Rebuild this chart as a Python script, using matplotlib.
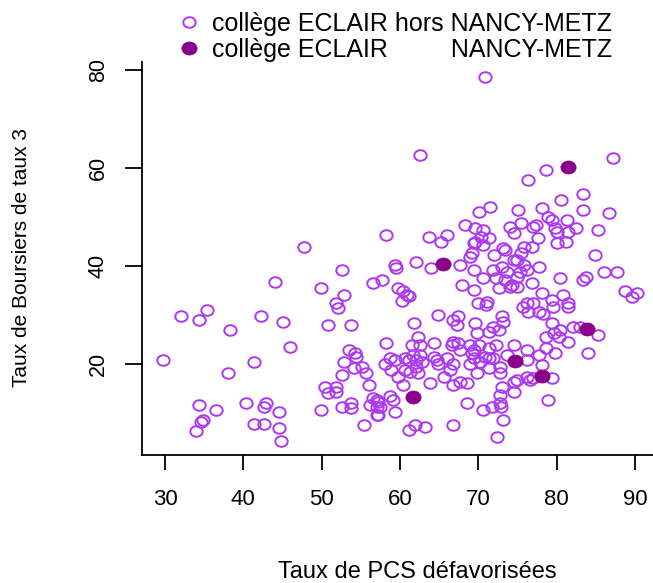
import matplotlib
matplotlib.use("Agg")
import matplotlib.pyplot as plt
from matplotlib.path import Path
from matplotlib.transforms import Affine2D

# ---- data ----
pcs_hors = [70.8, 62.6, 87.2, 78.7, 76.4, 83.4, 80.5, 83.4, 86.7, 75.1, 78.1, 71.5, 70.1, 68.3, 69.6, 70.6,
            70.4, 71.3, 69.6, 74.0, 75.4, 74.6, 77.0, 77.3, 78.9, 79.4, 81.3, 79.8, 80.0, 81.5, 82.5, 85.3,
            77.6, 81.2, 80.0, 69.4, 70.6, 76.9, 75.8, 73.2, 73.4, 69.2, 68.9, 72.0, 75.5, 84.9, 58.2, 63.7,
            66.0, 65.2, 62.0, 59.4, 59.5, 64.0, 67.6, 74.5, 74.9, 75.8, 77.8, 69.4, 71.9, 73.0, 73.6, 75.3,
            76.2, 74.9, 72.3, 70.6, 73.4, 76.8, 74.0, 74.9, 67.9, 69.4, 72.6, 80.4, 83.4, 83.8, 86.0, 87.7,
            88.7, 90.2, 89.6, 57.7, 56.5, 59.8, 60.4, 60.9, 78.1, 80.8, 61.2, 60.2, 70.0, 71.1, 71.0, 74.3,
            76.2, 77.0, 75.7, 76.3, 78.3, 77.7, 79.4, 79.5, 81.5, 81.5, 47.7, 52.6, 44.0, 49.9, 52.9, 51.8,
            52.1, 32.1, 34.4, 35.3, 38.3, 42.3, 45.0, 50.8, 53.8, 29.8, 41.4, 46.0, 38.0, 53.5, 54.3, 54.4,
            52.8, 54.1, 55.1, 55.7, 52.6, 56.0, 50.4, 50.8, 51.8, 51.8, 34.4, 36.5, 40.4, 42.6, 42.9, 44.6,
            34.8, 34.6, 33.9, 41.4, 42.6, 44.6, 44.8, 49.9, 52.6, 53.8, 53.8, 56.2, 57.0, 57.0, 57.0, 55.4,
            64.9, 66.8, 67.4, 67.3, 69.6, 73.0, 73.1, 71.9, 72.6, 71.3, 69.8, 61.8, 62.3, 58.2, 61.5, 62.6,
            64.3, 66.8, 67.4, 66.6, 67.7, 68.9, 69.4, 70.1, 71.3, 72.3, 74.5, 76.2, 77.7, 78.7, 79.8, 78.6,
            79.6, 80.4, 81.5, 79.4, 80.3, 82.1, 83.0, 85.3, 84.0, 69.4, 69.2, 71.3, 71.9, 66.0, 66.8, 66.4,
            64.7, 64.3, 61.7, 60.6, 61.1, 58.7, 58.1, 59.4, 62.1, 58.9, 59.8, 62.1, 62.3, 60.6, 60.4, 63.8,
            65.6, 66.8, 67.7, 68.5, 69.8, 71.3, 72.8, 72.8, 73.6, 76.2, 78.1, 76.2, 77.0, 76.6, 79.4, 78.9,
            74.9, 74.5, 73.0, 74.5, 72.8, 72.8, 72.9, 73.2, 71.7, 70.6, 72.4, 68.5, 66.8, 58.7, 59.1, 56.6,
            57.2, 57.4, 59.4, 57.2, 61.1, 61.9, 63.2, 62.6, 62.8, 61.3, 64.9, 68.9, 70.2, 70.9]
bours_hors = [78.6, 62.7, 62.0, 59.6, 57.6, 54.8, 53.5, 51.4, 50.8, 51.4, 51.8, 52.1, 51.1, 48.4, 47.7, 47.3,
              46.0, 45.7, 45.0, 48.0, 48.7, 46.7, 48.0, 48.4, 50.1, 49.4, 49.4, 47.7, 47.0, 47.0, 47.7, 47.3,
              45.7, 45.0, 44.6, 44.6, 44.3, 43.9, 43.9, 43.6, 43.3, 42.6, 41.9, 42.2, 42.6, 42.2, 46.3, 46.0,
              46.3, 45.0, 40.9, 40.2, 39.6, 39.5, 40.2, 41.2, 41.2, 40.2, 39.9, 39.2, 39.2, 39.9, 38.8, 38.8,
              39.2, 37.8, 37.5, 37.5, 37.1, 36.5, 35.8, 35.8, 36.1, 35.1, 35.5, 37.5, 37.1, 37.8, 38.8, 38.8,
              34.8, 34.4, 33.7, 37.1, 36.5, 35.5, 34.8, 34.1, 34.4, 34.1, 33.8, 32.8, 32.4, 32.7, 32.0, 36.1,
              32.4, 32.4, 31.7, 30.7, 30.3, 30.7, 33.1, 31.7, 32.5, 31.7, 43.9, 39.2, 36.8, 35.5, 34.1, 32.5,
              31.4, 29.7, 29.0, 31.0, 26.9, 29.7, 28.6, 28.0, 28.0, 20.8, 20.5, 23.5, 18.1, 22.9, 22.2, 21.4,
              20.5, 19.1, 19.4, 18.1, 17.8, 15.7, 15.4, 14.0, 15.4, 14.3, 11.6, 10.6, 12.0, 11.3, 12.0, 10.3,
              8.6, 8.2, 6.4, 7.8, 7.8, 6.9, 4.3, 10.6, 11.3, 12.1, 11.0, 11.6, 12.7, 11.3, 9.6, 7.6,
              30.0, 29.0, 29.7, 28.0, 28.3, 29.7, 28.6, 27.6, 26.9, 26.6, 26.3, 28.3, 25.6, 24.2, 23.9, 23.9,
              24.2, 24.5, 24.3, 23.9, 22.9, 23.9, 22.9, 23.9, 23.2, 23.9, 23.9, 22.9, 21.8, 23.2, 22.2, 25.6,
              26.3, 26.9, 24.5, 28.3, 25.6, 27.6, 27.6, 25.9, 22.2, 21.2, 22.2, 21.2, 21.2, 21.2, 20.1, 18.8,
              20.8, 21.5, 21.8, 21.2, 20.8, 21.2, 20.1, 20.8, 20.8, 18.8, 17.4, 19.4, 18.1, 18.8, 15.7, 16.1,
              17.4, 15.7, 16.4, 16.1, 18.1, 19.1, 18.1, 19.4, 21.8, 20.8, 19.8, 17.4, 17.1, 16.7, 17.1, 12.7,
              16.7, 16.4, 15.4, 14.3, 13.7, 12.0, 11.3, 8.6, 11.3, 10.6, 5.2, 12.0, 7.6, 13.5, 12.7, 13.0,
              12.3, 11.3, 10.3, 9.6, 6.5, 7.6, 7.2, 21.8, 20.5, 18.4, 20.1, 20.1, 20.5, 21.5]

pcs_nm = [81.5, 65.5, 83.9, 74.7, 78.1, 61.6]
bours_nm = [60.3, 40.4, 27.1, 20.6, 17.55, 13.2]

x_ticks = [30, 40, 50, 60, 70, 80, 90]
y_ticks = [20, 40, 60, 80]
label_hors = "collège ECLAIR hors NANCY-METZ"
label_nm = "collège ECLAIR         NANCY-METZ"
x_title = "Taux de PCS défavorisées"
y_title = "Taux de Boursiers de taux 3"

# ---- style ----
plt.rcParams["font.family"] = ["Liberation Sans", "DejaVu Sans"]
W, H = 653, 583
OPEN_COL = "#AC38F0"
FILL_COL = "#8B008B"

# slightly wide ellipse marker (reference is horizontally stretched)
ell = Affine2D().scale(1.17, 1.0).transform_path(Path.unit_circle())

fig = plt.figure(figsize=(W / 100, H / 100), dpi=100)
ax = fig.add_axes([142.3 / W, 128 / H, (W - 142.3) / W, 393.3 / H])

l1, = ax.plot(pcs_hors, bours_hors, ls="none", marker=ell, ms=8.9,
              mfc="none", mec=OPEN_COL, mew=1.4)
l2, = ax.plot(pcs_nm, bours_nm, ls="none", marker=ell, ms=11.0,
              mfc=FILL_COL, mec=FILL_COL, mew=0.5)

ax.set_xlim(27.1, 92.3)
ax.set_ylim(1.43, 81.7)
ax.set_xticks(x_ticks)
ax.set_yticks(y_ticks)

for s in ("top", "right"):
    ax.spines[s].set_visible(False)
for s in ("left", "bottom"):
    ax.spines[s].set_linewidth(1.3)
    ax.spines[s].set_color("black")

ax.tick_params(axis="x", length=10.8, width=1.3, pad=14, labelsize=16)
ax.tick_params(axis="y", length=12.2, width=1.3, pad=12, labelsize=15.5)
for t in ax.get_yticklabels():
    t.set_rotation(90)
    t.set_va("center")

fig.text(417 / W, 1 - 572 / H, x_title, ha="center", va="center", fontsize=17)
fig.text(22 / W, 1 - 258 / H, y_title, ha="center", va="center", rotation=90, fontsize=15)

fig.legend([l1, l2], [label_hors, label_nm], loc="upper left",
           bbox_to_anchor=(176 / W, 1 - 12 / H), frameon=False, fontsize=18,
           handlelength=1.0, handletextpad=0.42, borderpad=0, borderaxespad=0,
           labelspacing=0.08, numpoints=1)

fig.savefig("out.png", dpi=100)
